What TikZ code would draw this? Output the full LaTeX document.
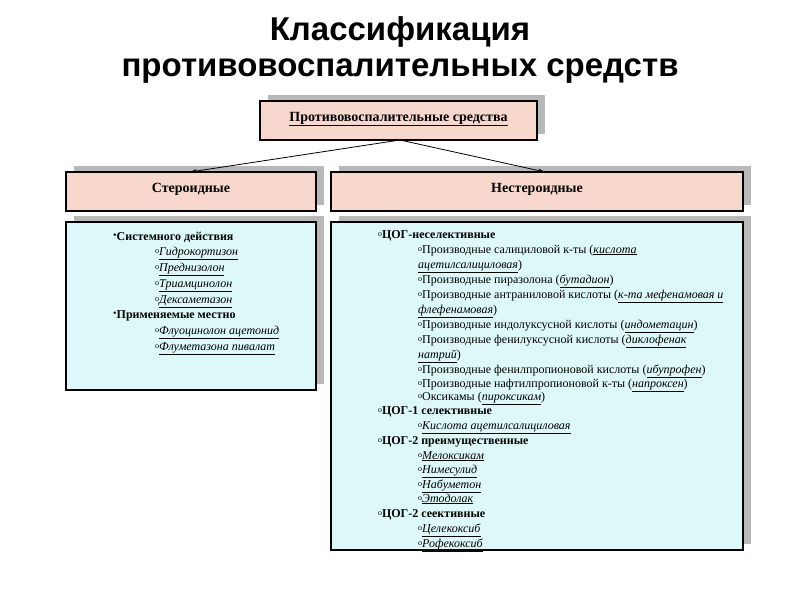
\documentclass[tikz,border=0pt]{standalone}
\usepackage{fontspec}
\usetikzlibrary{arrows.meta}
\setmainfont{Liberation Serif}
\newfontfamily\titlefont{Liberation Sans}
\newcommand{\ob}{\raisebox{0.35ex}{\fontsize{8}{8}\selectfont o}}
\newcommand{\bb}{\raisebox{0.3ex}{\fontsize{10}{10}\selectfont\textbullet}}
\newcommand{\ul}[1]{\underline{\textit{#1}}}
\definecolor{pinkf}{HTML}{F8D8CC}
\definecolor{cyanf}{HTML}{DDF8F8}
\definecolor{shad}{HTML}{B8B8B8}
\begin{document}
\begin{tikzpicture}[x=1pt,y=-1pt,
  box/.style={draw=black,line width=1.6pt},
  t/.style={anchor=base west,inner sep=0pt,font=\fontsize{12}{14}\selectfont},
  hd/.style={font=\fontsize{14}{16}\selectfont\bfseries},
  arr/.style={-{Stealth[length=7pt,width=4pt]},line width=0.8pt}]
\useasboundingbox (0,0) rectangle (800,600);
\fill[white] (0,0) rectangle (800,600);
\node[font=\titlefont\fontsize{33}{36}\selectfont\bfseries,align=center] (title) at (400,50) {Классификация\\противовоспалительных средств};
% shadows
\fill[shad] (268,95) rectangle (545,134);
\fill[shad] (74,166) rectangle (324,205);
\fill[shad] (339,166) rectangle (751,205);
\fill[shad] (74,216) rectangle (324,384);
\fill[shad] (339,216) rectangle (751,544);
% boxes
\draw[box,fill=pinkf] (260,101) rectangle (537,140);
\node[hd] (top) at (398.5,119) {\underline{Противовоспалительные средства}};
\draw[box,fill=pinkf] (66,172) rectangle (316,211);
\node[hd] (st) at (191,189) {Стероидные};
\draw[box,fill=pinkf] (331,172) rectangle (743,211);
\node[hd] (nst) at (537,189) {Нестероидные};
\coordinate (tb) at (400,140);
\coordinate (sttop) at (190,172);
\coordinate (nsttop) at (545,172);
\draw[arr] (tb) -- (sttop);
\draw[arr] (tb) -- (nsttop);
\draw[box,fill=cyanf] (66,222) rectangle (316,390);
\draw[box,fill=cyanf] (331,222) rectangle (743,550);
% steroid text
\node[t] (s1) at (113,240) {\bb\textbf{Системного действия}};
\node[t] (s2) at (155,255) {\ob\ul{Гидрокортизон}};
\node[t] (s3) at (155,271) {\ob\ul{Преднизолон}};
\node[t] (s4) at (155,287) {\ob\ul{Триамцинолон}};
\node[t] (s5) at (155,303) {\ob\ul{Дексаметазон}};
\node[t] (s6) at (113,318) {\bb\textbf{Применяемые местно}};
\node[t] (s7) at (155,334) {\ob\ul{Флуоцинолон ацетонид}};
\node[t] (s8) at (155,350) {\ob\ul{Флуметазона пивалат}};
% nonsteroid text
\node[t] (n1) at (378,238) {\ob\textbf{ЦОГ-неселективные}};
\node[t] (n2) at (418,253) {\ob Производные салициловой к-ты (\ul{кислота}};
\node[t] (n3) at (418,268) {\ul{ацетилсалициловая})};
\node[t] (n4) at (418,283) {\ob Производные пиразолона (\ul{бутадион})};
\node[t] (n5) at (418,298) {\ob Производные антраниловой кислоты (\ul{к-та мефенамовая и}};
\node[t] (n6) at (418,313) {\ul{флефенамовая})};
\node[t] (n7) at (418,328) {\ob Производные индолуксусной кислоты (\ul{индометацин})};
\node[t] (n8) at (418,343) {\ob Производные фенилуксусной кислоты (\ul{диклофенак}};
\node[t] (n9) at (418,358) {\ul{натрий})};
\node[t] (n10) at (418,373) {\ob Производные фенилпропионовой кислоты (\ul{ибупрофен})};
\node[t] (n11) at (418,387) {\ob Производные нафтилпропионовой к-ты (\ul{напроксен})};
\node[t] (n12) at (418,400) {\ob Оксикамы (\ul{пироксикам})};
\node[t] (n13) at (378,414) {\ob\textbf{ЦОГ-1 селективные}};
\node[t] (n14) at (418,429) {\ob\ul{Кислота ацетилсалициловая}};
\node[t] (n15) at (378,444) {\ob\textbf{ЦОГ-2 преимущественные}};
\node[t] (n16) at (418,459) {\ob\ul{Мелоксикам}};
\node[t] (n17) at (418,473) {\ob\ul{Нимесулид}};
\node[t] (n18) at (418,488) {\ob\ul{Набуметон}};
\node[t] (n19) at (418,502) {\ob\ul{Этодолак}};
\node[t] (n20) at (378,517) {\ob\textbf{ЦОГ-2 сеективные}};
\node[t] (n21) at (418,532) {\ob\ul{Целекоксиб}};
\node[t] (n22) at (418,547) {\ob\ul{Рофекоксиб}};
\end{tikzpicture}
\end{document}
